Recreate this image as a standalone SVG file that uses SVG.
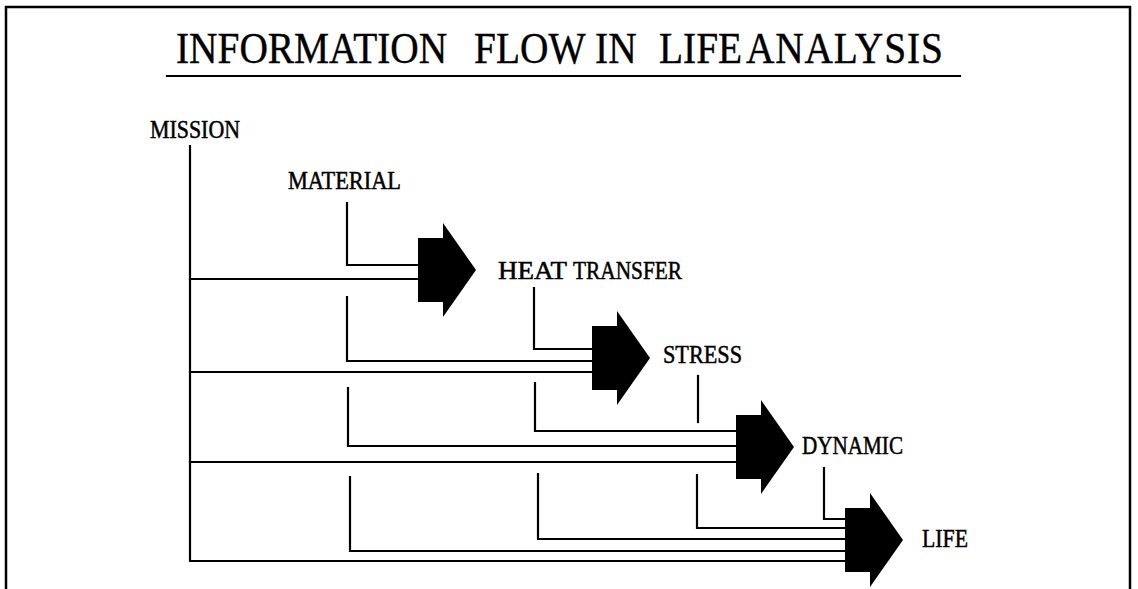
<svg xmlns="http://www.w3.org/2000/svg" width="1138" height="589" viewBox="0 0 1138 589">
<style>
.ln{fill:none;stroke:#000;stroke-width:2.2;stroke-linejoin:miter;stroke-linecap:square}
.bd{fill:none;stroke:#000;stroke-width:2.5}
.ttl{font-family:"Liberation Serif","Times New Roman",serif;font-size:45px;fill:#000;stroke:#000;stroke-width:0.4}
.lbl{font-family:"Liberation Serif","Times New Roman",serif;font-size:25px;fill:#000;stroke:#000;stroke-width:0.5}
.arr{fill:#000}
</style>
<defs>
<path id="bigarrow" d="M0,-32 H25 V-47 L58,0 L25,47 V32 H0 Z"/>
</defs>
<rect width="1138" height="589" fill="#fff"/>
<g id="frame">
<polyline class="bd" points="6,589 6,7 1130,7 1130,589"/>
</g>
<g id="title">
<text class="ttl" transform="translate(176,63) scale(0.875,1)"><tspan x="0" y="0">INFORMATION</tspan><tspan x="340.6" y="0">FLOW</tspan><tspan x="478.9" y="0">IN</tspan><tspan x="552" y="0">LIFE</tspan><tspan x="651.4" y="0" letter-spacing="1">ANALYSIS</tspan></text>
<line class="ln" x1="167" y1="76" x2="960" y2="76"/>
</g>
<g id="connectors">
<!-- MISSION -->
<path class="ln" d="M190,146 V561 H846"/>
<path class="ln" d="M190,279 H418"/>
<path class="ln" d="M190,372 H592"/>
<path class="ln" d="M190,462 H737"/>
<!-- MATERIAL -->
<path class="ln" d="M347,203 V265 H418"/>
<path class="ln" d="M347,297 V361 H592"/>
<path class="ln" d="M348,388 V446 H737"/>
<path class="ln" d="M350,477 V551 H846"/>
<!-- HEAT TRANSFER -->
<path class="ln" d="M534,288 V349 H592"/>
<path class="ln" d="M535,383 V431 H737"/>
<path class="ln" d="M538,474 V539 H846"/>
<!-- STRESS -->
<path class="ln" d="M698,376 V422"/>
<path class="ln" d="M697,475 V528 H846"/>
<!-- DYNAMIC -->
<path class="ln" d="M824,468 V519 H846"/>
</g>
<g id="arrow1"><use href="#bigarrow" class="arr" x="418" y="270"/></g>
<g id="arrow2"><use href="#bigarrow" class="arr" x="592" y="358"/></g>
<g id="arrow3"><use href="#bigarrow" class="arr" x="736" y="447"/></g>
<g id="arrow4"><use href="#bigarrow" class="arr" x="845" y="540"/></g>
<g id="mission"><text class="lbl" x="150" y="138" textLength="90" lengthAdjust="spacingAndGlyphs">MISSION</text></g>
<g id="material"><text class="lbl" x="288" y="189" textLength="113" lengthAdjust="spacingAndGlyphs">MATERIAL</text></g>
<g id="heat-transfer"><text class="lbl" x="498" y="279" textLength="69" lengthAdjust="spacingAndGlyphs">HEAT</text><text class="lbl" x="573" y="279" textLength="109" lengthAdjust="spacingAndGlyphs">TRANSFER</text></g>
<g id="stress"><text class="lbl" x="663" y="363" textLength="79" lengthAdjust="spacingAndGlyphs">STRESS</text></g>
<g id="dynamic"><text class="lbl" x="802" y="454" textLength="101" lengthAdjust="spacingAndGlyphs">DYNAMIC</text></g>
<g id="life"><text class="lbl" x="922" y="547" textLength="46" lengthAdjust="spacingAndGlyphs">LIFE</text></g>
</svg>
